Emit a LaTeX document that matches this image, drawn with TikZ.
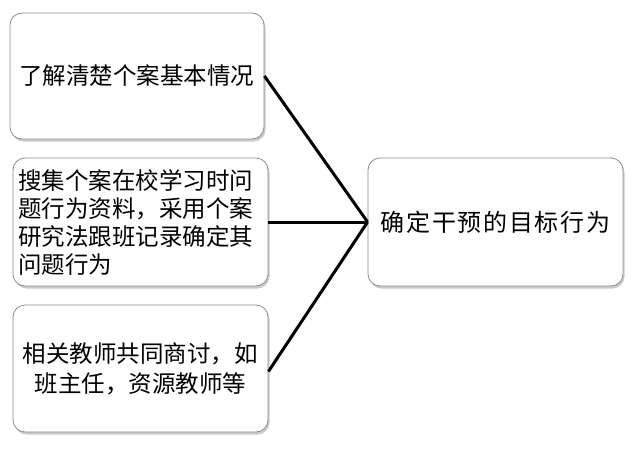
\documentclass[tikz,border=0pt]{standalone}
\usepackage{fontspec}
\newfontfamily\cjk{Noto Sans CJK SC}
\newfontfamily\cjkwide[LetterSpace=7]{Noto Sans CJK SC}
\usetikzlibrary{shadows}
\tikzset{
  card/.style={draw=black!45, line width=0.8pt, rounded corners=12pt, fill=white,
    drop shadow={shadow xshift=1.5pt, shadow yshift=-2.5pt, opacity=0.35, fill=black!60},
    inner sep=5pt, font=\cjk\fontsize{23.5}{28}\selectfont},
  link/.style={line width=3pt, draw=black},
}
\begin{document}
\begin{tikzpicture}[x=1pt,y=-1pt]
\useasboundingbox (0,0) rectangle (637,450);
\node[card, minimum width=254pt, minimum height=126pt, align=center] (a) at (137,76) {了解清楚个案基本情况};
\node[card, minimum width=255pt, minimum height=128pt, text width=245pt, align=left] (b) at (140.5,222)
  {搜集个案在校学习时问\\题行为资料，采用个案\\研究法跟班记录确定其\\问题行为};
\node[card, minimum width=255pt, minimum height=127pt, align=center, font=\cjk\fontsize{23.5}{30}\selectfont] (c) at (140.5,368.5)
  {相关教师共同商讨，如\\班主任，资源教师等};
\node[card, minimum width=255pt, minimum height=128pt, align=center, font=\cjkwide\fontsize{24}{28}\selectfont] (d) at (495.5,222)
  {确定干预的目标行为};
\draw[link] (a.east) -- (d.west);
\draw[link] (b.east) -- (d.west);
\draw[link] ([yshift=-3pt]c.east) -- (d.west);
\end{tikzpicture}
\end{document}
